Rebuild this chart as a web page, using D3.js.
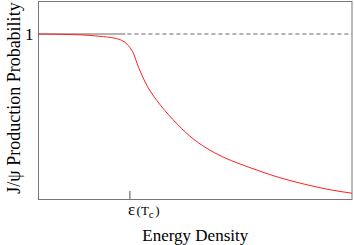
<!DOCTYPE html>
<html>
<head>
<meta charset="utf-8">
<script src="https://d3js.org/d3.v7.min.js"></script>
<style>
  body { margin: 0; background: #fff; }
  svg text { font-family: "Liberation Serif", "Times New Roman", Times, serif; fill: #000; }
</style>
</head>
<body>
<div id="chart"></div>
<script>
// energy density (arbitrary units) and J/psi production probability
const energy = [0, 1.32, 1.96, 2.44, 2.66, 2.82, 2.95, 3.05, 3.14, 3.27, 3.40, 3.56, 3.78, 4.03, 4.29, 4.83, 5.37, 5.88, 6.43, 6.75, 7.38, 8.02, 8.66, 9.30, 10];
const prob = [1.0, 0.995, 0.986, 0.974, 0.961, 0.939, 0.909, 0.873, 0.824, 0.764, 0.709, 0.655, 0.596, 0.536, 0.481, 0.381, 0.307, 0.255, 0.212, 0.190, 0.148, 0.112, 0.082, 0.056, 0.035];
const epsTc = 2.9;
const yTicks = [1];

const serif = '"Liberation Serif", "Times New Roman", Times, serif';

const dimensions = {
    width: 354,
    height: 245,
    margin: { top: 1, right: 2, bottom: 46, left: 38.5 },
};
dimensions.boundedWidth = dimensions.width - dimensions.margin.left - dimensions.margin.right;
dimensions.boundedHeight = dimensions.height - dimensions.margin.top - dimensions.margin.bottom;

const svg = d3.select("#chart")
    .append("svg")
    .attr("width", dimensions.width)
    .attr("height", dimensions.height)
    .style("font-family", serif);

const x = d3.scaleLinear()
    .domain([0, 10])
    .range([dimensions.margin.left, dimensions.margin.left + dimensions.boundedWidth]);

const y = d3.scaleLinear()
    .domain([0, 1.2])
    .range([dimensions.margin.top + dimensions.boundedHeight, dimensions.margin.top]);

// frame
svg.append("rect")
    .attr("x", x(0))
    .attr("y", y(1.2) + 0.5)
    .attr("width", x(10) - x(0))
    .attr("height", y(0) - y(1.2))
    .attr("fill", "none")
    .attr("stroke", "#777")
    .attr("stroke-width", 1);

// reference line at 1: solid before eps(Tc), dashed after
svg.append("line")
    .attr("x1", x(0)).attr("x2", x(epsTc) - 4)
    .attr("y1", y(1)).attr("y2", y(1))
    .attr("stroke", "#666")
    .attr("stroke-width", 1);

svg.append("line")
    .attr("x1", x(epsTc) - 2).attr("x2", x(10))
    .attr("y1", y(1)).attr("y2", y(1))
    .attr("stroke", "#666")
    .attr("stroke-width", 1)
    .attr("stroke-dasharray", "4,3");

// axes ticks
const xAxis = d3.axisBottom(x).tickValues([epsTc]).tickSizeInner(-8).tickSizeOuter(0).tickFormat("");
svg.append("g")
    .attr("transform", `translate(0, ${y(0)})`)
    .call(xAxis)
    .call(g => g.select(".domain").remove())
    .call(g => g.selectAll("line").attr("stroke", "#555"));

svg.selectAll("text.ytick")
    .data(yTicks)
    .join("text")
    .attr("class", "ytick")
    .attr("x", x(0) - 5)
    .attr("y", d => y(d))
    .attr("dy", "0.35em")
    .attr("text-anchor", "end")
    .style("font-family", serif)
    .style("font-size", "17px")
    .text(d => d);

// eps(Tc) label
const lab = svg.append("text")
    .attr("x", x(epsTc) - 1.5)
    .attr("y", 214.5)
    .attr("text-anchor", "start")
    .style("font-family", serif)
    .style("font-size", "17px");
lab.append("tspan").text("ε");
lab.append("tspan").style("font-size", "13px").attr("dx", 1.5).text("(T");
lab.append("tspan").style("font-size", "11px").attr("dy", 3).text("c");
lab.append("tspan").style("font-size", "13px").attr("dy", -3).attr("dx", 1.5).text(")");

// curve
const line = d3.line()
    .x((d, i) => x(energy[i]))
    .y((d, i) => y(prob[i]))
    .curve(d3.curveMonotoneX);

svg.append("path")
    .datum(prob)
    .attr("d", line)
    .attr("fill", "none")
    .attr("stroke", "#ff2020")
    .attr("stroke-width", 1);

// axis titles
svg.append("text")
    .attr("x", (x(0) + x(10)) / 2)
    .attr("y", 241)
    .attr("text-anchor", "middle")
    .style("font-family", serif)
    .style("font-size", "17px")
    .text("Energy Density");

svg.append("text")
    .attr("transform", `translate(20, ${(y(0) + y(1.2)) / 2 - 2}) rotate(-90)`)
    .attr("text-anchor", "middle")
    .style("font-family", serif)
    .style("font-size", "18px")
    .text("J/ψ Production Probability");
</script>
</body>
</html>
